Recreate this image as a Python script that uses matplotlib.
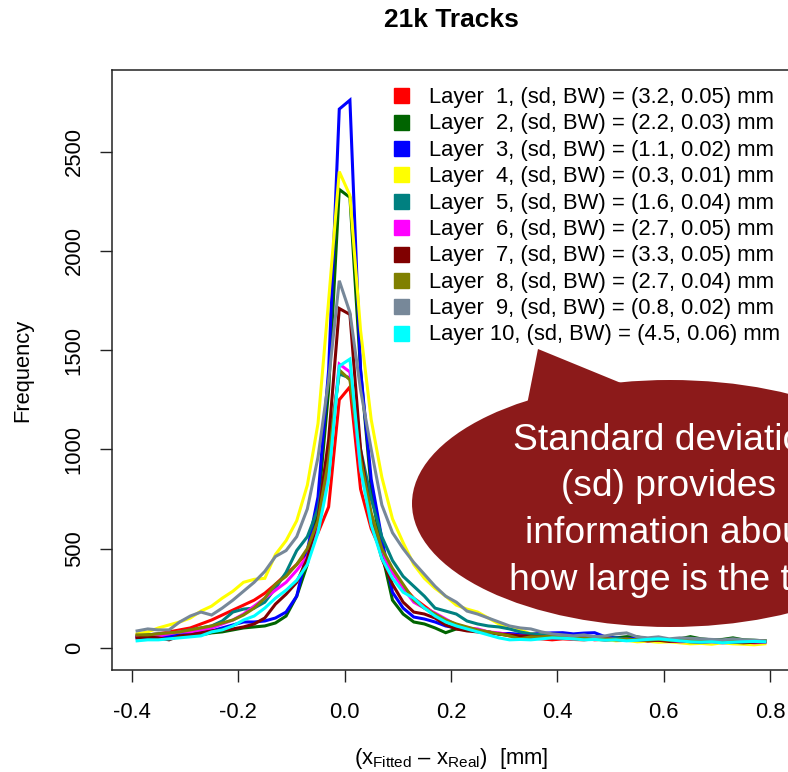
import numpy as np
import matplotlib
matplotlib.use("Agg")
import matplotlib.pyplot as plt
from matplotlib.lines import Line2D
from matplotlib.patches import Ellipse, Polygon

plt.rcParams['font.family'] = ['Liberation Sans', 'DejaVu Sans']
plt.rcParams['mathtext.fontset'] = 'custom'
plt.rcParams['mathtext.rm'] = 'Liberation Sans'
plt.rcParams['mathtext.it'] = 'Liberation Sans:italic'

# residual bins (bin centres, mm)
x = np.round(np.arange(-0.39, 0.80, 0.02), 2)

layer1 = [60, 65, 70, 80, 90, 100, 120, 140, 165, 190,
          215, 240, 275, 320, 370, 420, 480, 580, 710, 1250,
          1315, 800, 600, 480, 380, 310, 250, 210, 170, 140,
          115, 100, 90, 80, 70, 60, 55, 50, 45, 40,
          45, 42, 40, 45, 38, 40, 42, 36, 34, 38,
          35, 32, 36, 30, 28, 32, 30, 28, 25, 30]
layer2 = [55, 50, 55, 50, 55, 60, 65, 75, 80, 90,
          100, 105, 110, 125, 160, 260, 420, 700, 1300, 2310,
          2270, 1400, 800, 480, 240, 170, 130, 120, 100, 76,
          95, 90, 85, 80, 70, 65, 60, 55, 50, 55,
          50, 45, 50, 55, 45, 50, 56, 55, 45, 50,
          40, 45, 56, 45, 40, 42, 50, 40, 38, 35]
layer3 = [50, 55, 55, 60, 65, 70, 75, 85, 100, 115,
          130, 130, 135, 150, 180, 260, 490, 760, 1400, 2715,
          2760, 1400, 850, 550, 280, 200, 155, 145, 130, 110,
          100, 95, 85, 76, 70, 72, 68, 70, 72, 75,
          76, 70, 74, 76, 55, 50, 45, 48, 42, 40,
          38, 40, 35, 38, 36, 34, 35, 33, 32, 30]
layer4 = [70, 80, 100, 115, 130, 150, 185, 210, 250, 285,
          330, 345, 350, 470, 540, 640, 820, 1130, 1750, 2400,
          2280, 1600, 1150, 860, 650, 530, 420, 350, 300, 260,
          215, 195, 180, 150, 120, 100, 90, 70, 65, 55,
          50, 45, 50, 40, 42, 35, 38, 30, 33, 28,
          30, 25, 20, 22, 18, 25, 20, 18, 15, 20]
layer5 = [60, 65, 70, 70, 80, 90, 100, 110, 135, 180,
          195, 200, 230, 300, 380, 490, 560, 700, 1000, 1380,
          1360, 1000, 750, 560, 440, 360, 310, 260, 200, 185,
          170, 135, 120, 110, 105, 95, 80, 70, 65, 60,
          55, 50, 55, 48, 45, 50, 42, 40, 45, 38,
          40, 35, 38, 36, 35, 32, 35, 33, 35, 36]
layer6 = [55, 60, 60, 70, 80, 80, 90, 100, 120, 140,
          170, 210, 250, 290, 330, 390, 460, 600, 900, 1430,
          1390, 900, 650, 480, 380, 300, 230, 200, 175, 145,
          115, 100, 95, 80, 75, 65, 60, 55, 55, 50,
          48, 45, 50, 40, 45, 42, 38, 40, 35, 38,
          35, 30, 32, 28, 30, 25, 28, 30, 25, 28]
layer7 = [50, 55, 50, 40, 60, 65, 75, 85, 90, 95,
          105, 120, 150, 220, 270, 330, 450, 650, 1050, 1710,
          1680, 1000, 650, 450, 320, 230, 180, 170, 150, 115,
          95, 85, 80, 75, 70, 65, 60, 58, 55, 50,
          48, 52, 45, 50, 45, 40, 38, 42, 35, 38,
          32, 35, 30, 28, 32, 30, 28, 25, 28, 30]
layer8 = [65, 65, 70, 75, 80, 90, 100, 110, 125, 140,
          165, 200, 250, 320, 360, 420, 500, 640, 950, 1400,
          1350, 950, 680, 500, 400, 320, 240, 200, 170, 140,
          120, 105, 90, 80, 70, 60, 45, 55, 55, 60,
          55, 50, 48, 52, 45, 42, 45, 40, 38, 42,
          38, 35, 40, 36, 38, 35, 32, 36, 34, 35]
layer9 = [85, 95, 90, 90, 130, 160, 180, 165, 200, 240,
          285, 330, 385, 460, 490, 560, 700, 960, 1350, 1850,
          1690, 1300, 1000, 720, 580, 500, 430, 370, 310, 260,
          230, 185, 170, 150, 130, 110, 100, 95, 80, 70,
          65, 60, 65, 55, 60, 70, 75, 55, 50, 55,
          45, 50, 48, 45, 42, 40, 45, 40, 38, 35]
layer10 = [35, 40, 40, 45, 50, 55, 60, 80, 90, 110,
           140, 160, 200, 250, 290, 340, 420, 580, 850, 1420,
           1455, 900, 620, 450, 350, 280, 250, 200, 160, 130,
           110, 95, 80, 65, 50, 40, 42, 40, 45, 50,
           48, 45, 40, 42, 38, 40, 35, 38, 42, 45,
           40, 35, 30, 28, 30, 25, 28, 30, 32, 30]

series = [layer1, layer2, layer3, layer4, layer5,
          layer6, layer7, layer8, layer9, layer10]
colors = ['#FF0000', '#006400', '#0000FF', '#FFFF00', '#008080',
          '#FF00FF', '#800000', '#808000', '#778899', '#00FFFF']
sd = [3.2, 2.2, 1.1, 0.3, 1.6, 2.7, 3.3, 2.7, 0.8, 4.5]
bw = [0.05, 0.03, 0.02, 0.01, 0.04, 0.05, 0.05, 0.04, 0.02, 0.06]
labels = [f"Layer {i + 1:2d}, (sd, BW) = ({s}, {b:.2f}) mm"
          for i, (s, b) in enumerate(zip(sd, bw))]

W, H = 788, 772
fig = plt.figure(figsize=(W / 100, H / 100), dpi=100)
ax = fig.add_axes([112 / W, 1 - 670 / H, 678 / W, 600 / H])

for y, c in zip(series, colors):
    ax.plot(x, y, color=c, lw=2.2, solid_joinstyle='miter')

# R-style 4% padding around the data range
r = x.max() - x.min()
ax.set_xlim(x.min() - 0.04 * r, x.max() + 0.04 * r)
ax.set_ylim(-0.04 * 2800, 2800 * 1.04)

ax.set_xticks([-0.4, -0.2, 0.0, 0.2, 0.4, 0.6, 0.8])
ax.set_xticklabels(['-0.4', '-0.2', '0.0', '0.2', '0.4', '0.6', '0.8'])
ax.set_yticks([0, 500, 1000, 1500, 2000, 2500])
ax.tick_params(labelsize=15.8, length=8.6, width=1, pad=11, color='#222222')
ax.tick_params(axis='x', pad=14.5)
plt.setp(ax.get_yticklabels(), rotation=90, va='center')
for sp in ax.spines.values():
    sp.set_linewidth(1.1)
    sp.set_color('#222222')

ax.set_title("21k Tracks", fontsize=19, fontweight='bold', pad=31)
ax.set_xlabel(r"(x$_\mathrm{Fitted}$ – x$_\mathrm{Real}$)  [mm]", fontsize=15.8)
ax.set_ylabel("Frequency", fontsize=15.8)
ax.xaxis.set_label_coords(0.5, -0.126)
ax.yaxis.set_label_coords(-0.1165, 0.5)

handles = [Line2D([], [], marker='s', ls='', color=c, markersize=10.8)
           for c in colors]
ax.legend(handles, labels, loc='upper left',
          bbox_to_anchor=(393 / W, 1 - 87 / H), bbox_transform=fig.transFigure,
          frameon=False, fontsize=15.8, handlelength=0.7, handletextpad=0.93,
          labelspacing=0.245, borderpad=0, borderaxespad=0)

# callout bubble drawn on a pixel-space overlay
ov = fig.add_axes([0, 0, 1, 1], zorder=5)
ov.set_xlim(0, W)
ov.set_ylim(H, 0)
ov.axis('off')
bubble = '#8C1A1A'
ov.add_patch(Ellipse((670, 503.5), 516, 247, facecolor=bubble, edgecolor='none'))
ov.add_patch(Polygon([(538, 349), (520, 440), (660, 420), (660, 399)],
                     closed=True, facecolor=bubble, edgecolor='none'))
note = ["Standard deviation", "(sd) provides", "information about",
        "how large is the tail"]
for k, line in enumerate(note):
    ov.text(669, 440.5 + 46.5 * k, line, color='white', fontsize=26.8,
            ha='center', va='center')

fig.savefig("out.png", dpi=100)
